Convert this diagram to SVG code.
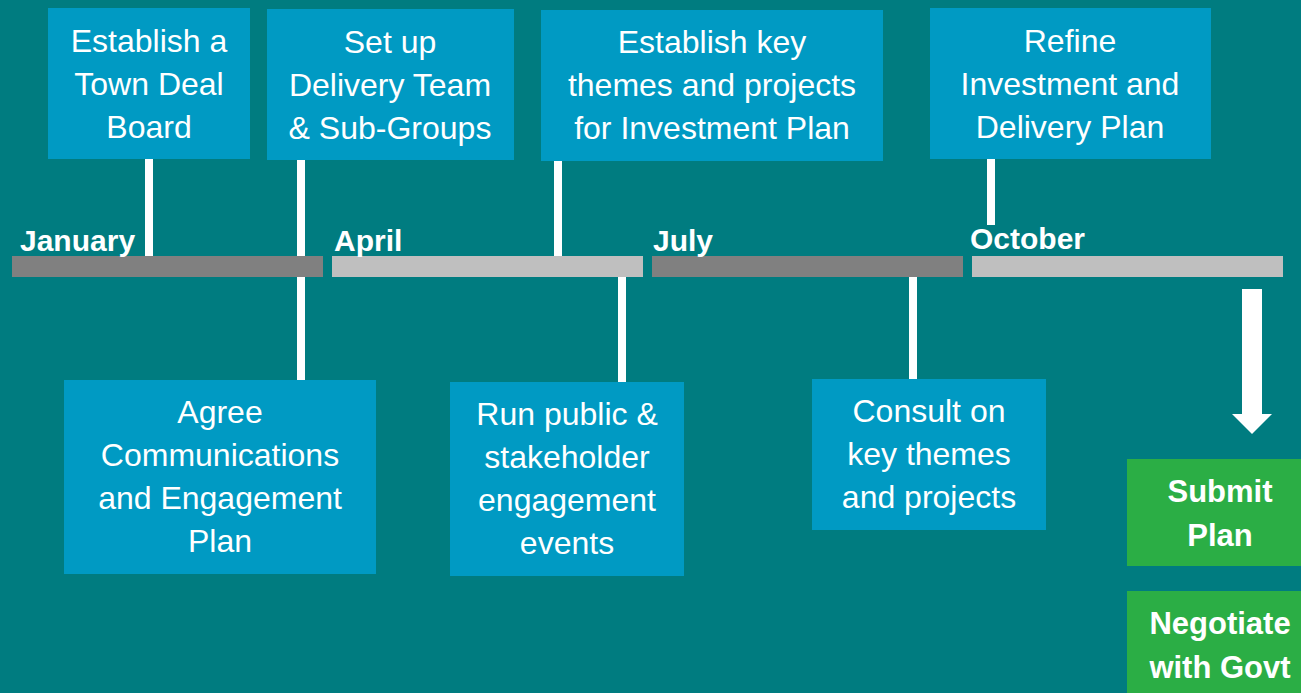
<svg xmlns="http://www.w3.org/2000/svg" width="1301" height="693" viewBox="0 0 1301 693">
<style>
.box{fill:#009AC3}
.gbox{fill:#2BAE45}
.t{font-family:"Liberation Sans",Arial,sans-serif;font-size:32px;fill:#fff;text-anchor:middle}
.gt{font-family:"Liberation Sans",Arial,sans-serif;font-size:31px;font-weight:bold;fill:#fff;text-anchor:middle}
.m{font-family:"Liberation Sans",Arial,sans-serif;font-size:30px;font-weight:bold;fill:#fff}
.dark{fill:#808080}
.light{fill:#BFBFBF}
.c{stroke:#fff;stroke-width:8;fill:none}
</style>
<rect width="1301" height="693" fill="#007C80"/>
<g id="connectors">
<line class="c" x1="149" y1="158" x2="149" y2="257"/>
<line class="c" x1="301" y1="160" x2="301" y2="380"/>
<line class="c" x1="558" y1="160" x2="558" y2="257"/>
<line class="c" x1="622" y1="277" x2="622" y2="382"/>
<line class="c" x1="913" y1="277" x2="913" y2="379"/>
<line class="c" x1="991" y1="158" x2="991" y2="225"/>
<polygon fill="#fff" points="1242,289 1262,289 1262,414 1272,414 1252,434 1232,414 1242,414"/>
</g>
<g id="timeline">
<rect class="dark" x="12" y="256" width="311" height="21"/>
<rect class="light" x="332" y="256" width="311" height="21"/>
<rect class="dark" x="652" y="256" width="311" height="21"/>
<rect class="light" x="972" y="256" width="311" height="21"/>
<text class="m" x="20" y="251">January</text>
<text class="m" x="334" y="251">April</text>
<text class="m" x="653" y="251">July</text>
<text class="m" x="970" y="249">October</text>
</g>
<g id="n1">
<rect class="box" x="48" y="8" width="202" height="151"/>
<text class="t" x="149" y="52">Establish a</text>
<text class="t" x="149" y="95">Town Deal</text>
<text class="t" x="149" y="138">Board</text>
</g>
<g id="n2">
<rect class="box" x="267" y="9" width="247" height="151"/>
<text class="t" x="390" y="53">Set up</text>
<text class="t" x="390" y="96">Delivery Team</text>
<text class="t" x="390" y="139">&amp; Sub-Groups</text>
</g>
<g id="n3">
<rect class="box" x="541" y="10" width="342" height="151"/>
<text class="t" x="712" y="53">Establish key</text>
<text class="t" x="712" y="96">themes and projects</text>
<text class="t" x="712" y="139">for Investment Plan</text>
</g>
<g id="n4">
<rect class="box" x="930" y="8" width="281" height="151"/>
<text class="t" x="1070" y="52">Refine</text>
<text class="t" x="1070" y="95">Investment and</text>
<text class="t" x="1070" y="138">Delivery Plan</text>
</g>
<g id="n5">
<rect class="box" x="64" y="380" width="312" height="194"/>
<text class="t" x="220" y="423">Agree</text>
<text class="t" x="220" y="466">Communications</text>
<text class="t" x="220" y="509">and Engagement</text>
<text class="t" x="220" y="552">Plan</text>
</g>
<g id="n6">
<rect class="box" x="450" y="382" width="234" height="194"/>
<text class="t" x="567" y="425">Run public &amp;</text>
<text class="t" x="567" y="468">stakeholder</text>
<text class="t" x="567" y="511">engagement</text>
<text class="t" x="567" y="554">events</text>
</g>
<g id="n7">
<rect class="box" x="812" y="379" width="234" height="151"/>
<text class="t" x="929" y="422">Consult on</text>
<text class="t" x="929" y="465">key themes</text>
<text class="t" x="929" y="508">and projects</text>
</g>
<g id="n8">
<rect class="gbox" x="1127" y="459" width="174" height="107"/>
<text class="gt" x="1220" y="502">Submit</text>
<text class="gt" x="1220" y="546">Plan</text>
</g>
<g id="n9">
<rect class="gbox" x="1127" y="591" width="174" height="102"/>
<text class="gt" x="1220" y="634">Negotiate</text>
<text class="gt" x="1220" y="678">with Govt</text>
</g>
</svg>
